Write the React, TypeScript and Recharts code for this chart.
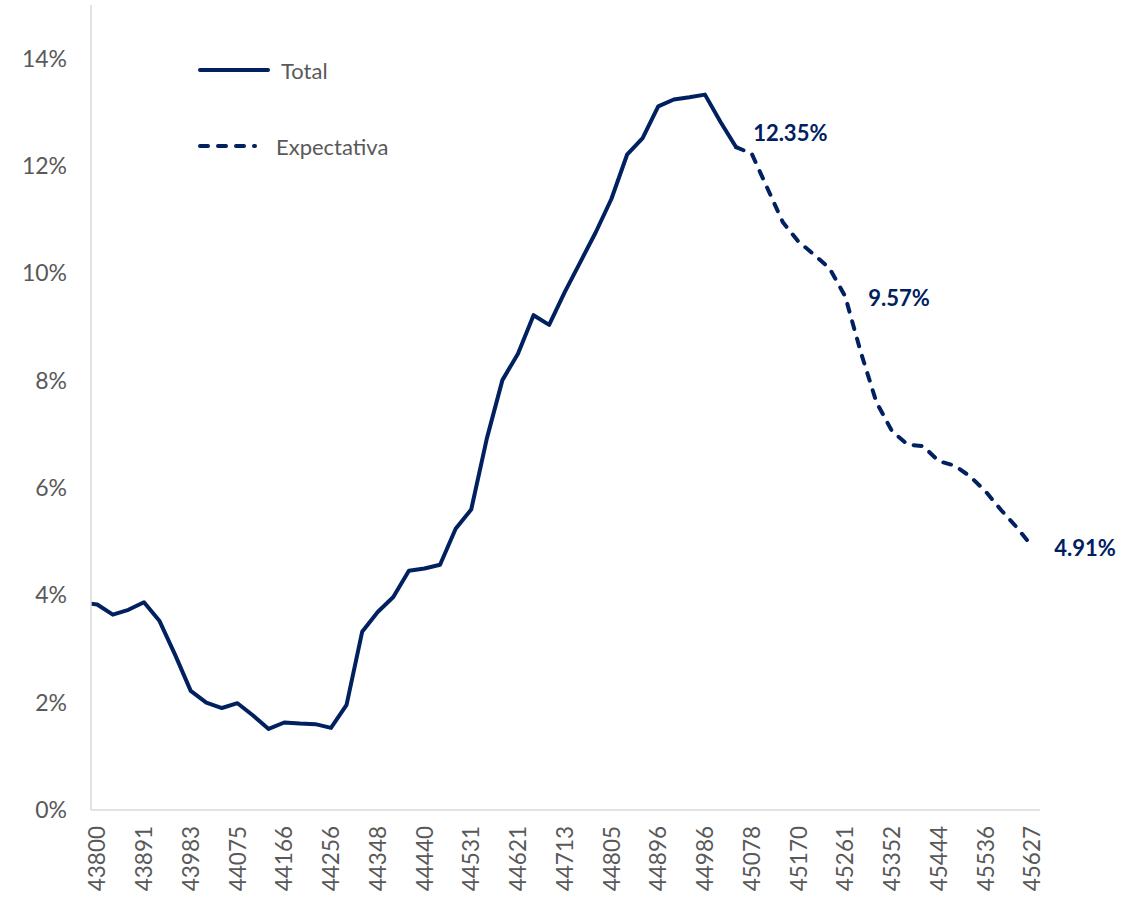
import React from 'react';
import { LineChart, Line, XAxis, YAxis, Legend } from 'recharts';

// Monthly date serials (Excel), first entry is the month before the visible range
const months = [
  43770, 43800, 43831, 43862, 43891, 43922, 43952, 43983, 44013, 44044, 44075,
  44105, 44136, 44166, 44197, 44228, 44256, 44287, 44317, 44348, 44378, 44409,
  44440, 44470, 44501, 44531, 44562, 44593, 44621, 44652, 44682, 44713, 44743,
  44774, 44805, 44835, 44866, 44896, 44927, 44958, 44986, 45017, 45047, 45078,
  45108, 45139, 45170, 45200, 45231, 45261, 45292, 45323, 45352, 45383, 45413,
  45444, 45474, 45505, 45536, 45566, 45597, 45627,
];

// "Total" series (%), aligned with months[0..]
const totalValues = [
  3.86, 3.83, 3.64, 3.73, 3.87, 3.52, 2.89, 2.22, 2.0, 1.9, 1.99, 1.76, 1.51,
  1.63, 1.61, 1.6, 1.53, 1.96, 3.32, 3.69, 3.97, 4.46, 4.5, 4.57, 5.24, 5.6,
  6.92, 8.01, 8.5, 9.22, 9.04, 9.65, 10.21, 10.77, 11.39, 12.21, 12.52, 13.11,
  13.24, 13.28, 13.33, 12.82, 12.35,
];

// "Expectativa" series (%), starting at the month 45047
const expectativaStart = 45047;
const expectativaValues = [
  12.35, 12.23, 11.59, 10.95, 10.59, 10.35, 10.09, 9.57, 8.53, 7.6, 7.06, 6.81,
  6.78, 6.5, 6.42, 6.22, 5.94, 5.59, 5.27, 4.91,
];

const xTickLabels = [
  43800, 43891, 43983, 44075, 44166, 44256, 44348, 44440, 44531, 44621, 44713,
  44805, 44896, 44986, 45078, 45170, 45261, 45352, 45444, 45536, 45627,
];
const yTicks = [0, 2, 4, 6, 8, 10, 12, 14];
const labeledMonths = [45047, 45261, 45627];

const seriesNames = { total: 'Total', exp: 'Expectativa' };

const NAVY = '#002060';
const GREY_TEXT = '#595959';
const AXIS = '#d9d9d9';
const FONT = 'Lato, "Open Sans", sans-serif';
const DASH = '8 10';
const labelOffsets: Record<number, [number, number]> = {
  45047: [17, -15],
  45261: [23, 1],
  45627: [22, 1],
};

const expIdx = months.indexOf(expectativaStart);
const data = months.map((m, i) => ({
  idx: i - 1,
  date: m,
  total: i < totalValues.length ? totalValues[i] : null,
  exp: i >= expIdx ? expectativaValues[i - expIdx] : null,
}));
const xTicks = xTickLabels.map((d) => months.indexOf(d) - 1);

const XTick = (props: any) => {
  const { x, y, payload } = props;
  const label = months[payload.value + 1];
  return (
    <g transform={`translate(${x},${y})`}>
      <text
        transform="rotate(-90)"
        textAnchor="end"
        dy="0.36em"
        fill={GREY_TEXT}
        fontSize={22.5}
        fontFamily={FONT}
      >
        {label}
      </text>
    </g>
  );
};

const renderExpLabel = (props: any) => {
  const { x, y, index } = props;
  const row = data[index];
  if (!row || labeledMonths.indexOf(row.date) < 0 || row.exp == null) return null;
  const [dx, dy] = labelOffsets[row.date] || [20, 0];
  return (
    <text
      key={`lbl-${row.date}`}
      x={x + dx}
      y={y + dy}
      textAnchor="start"
      dominantBaseline="central"
      fill={NAVY}
      fontWeight="bold"
      fontSize={22}
      fontFamily={FONT}
    >
      {`${row.exp.toFixed(2)}%`}
    </text>
  );
};

const LegendContent = () => (
  <svg width={240} height={130}>
    <line x1={7} y1={25} x2={75} y2={25} stroke={NAVY} strokeWidth={4} strokeLinecap="round" />
    <text x={88} y={25} dominantBaseline="central" fill={GREY_TEXT} fontSize={22} fontFamily={FONT}>
      {seriesNames.total}
    </text>
    <line
      x1={7}
      y1={101}
      x2={62}
      y2={101}
      stroke={NAVY}
      strokeWidth={4}
      strokeLinecap="round"
      strokeDasharray={DASH}
    />
    <text x={83} y={101} dominantBaseline="central" fill={GREY_TEXT} fontSize={22} fontFamily={FONT}>
      {seriesNames.exp}
    </text>
  </svg>
);

export default function App() {
  return (
    <div style={{ position: 'absolute', left: 0, top: 0, background: '#fff' }}>
      <LineChart
        width={1145}
        height={897}
        data={data}
        margin={{ top: 5, right: 105, bottom: 0, left: 0 }}
      >
        <XAxis
          dataKey="idx"
          type="number"
          domain={[-0.4, 60.5]}
          allowDataOverflow
          ticks={xTicks}
          interval={0}
          tick={<XTick />}
          tickLine={false}
          tickSize={0}
          tickMargin={16}
          height={87}
          axisLine={{ stroke: AXIS, strokeWidth: 1.5 }}
        />
        <YAxis
          type="number"
          domain={[0, 15]}
          ticks={yTicks}
          interval={0}
          width={91}
          tickFormatter={(v: number) => `${v}%`}
          tick={{ fill: GREY_TEXT, fontSize: 23, fontFamily: FONT }}
          tickLine={false}
          tickSize={0}
          tickMargin={24}
          axisLine={{ stroke: AXIS, strokeWidth: 1.5 }}
        />
        <Legend
          verticalAlign="middle"
          align="center"
          layout="horizontal"
          content={<LegendContent />}
          wrapperStyle={{ position: 'absolute', left: 193, top: 45, width: 240, height: 130 }}
        />
        <Line
          name={seriesNames.total}
          dataKey="total"
          stroke={NAVY}
          strokeWidth={4}
          strokeLinecap="round"
          strokeLinejoin="round"
          dot={false}
          activeDot={false}
          isAnimationActive={false}
        />
        <Line
          name={seriesNames.exp}
          dataKey="exp"
          stroke={NAVY}
          strokeWidth={4}
          strokeLinecap="round"
          strokeLinejoin="round"
          strokeDasharray={DASH}
          dot={false}
          activeDot={false}
          label={renderExpLabel}
          isAnimationActive={false}
        />
      </LineChart>
    </div>
  );
}
